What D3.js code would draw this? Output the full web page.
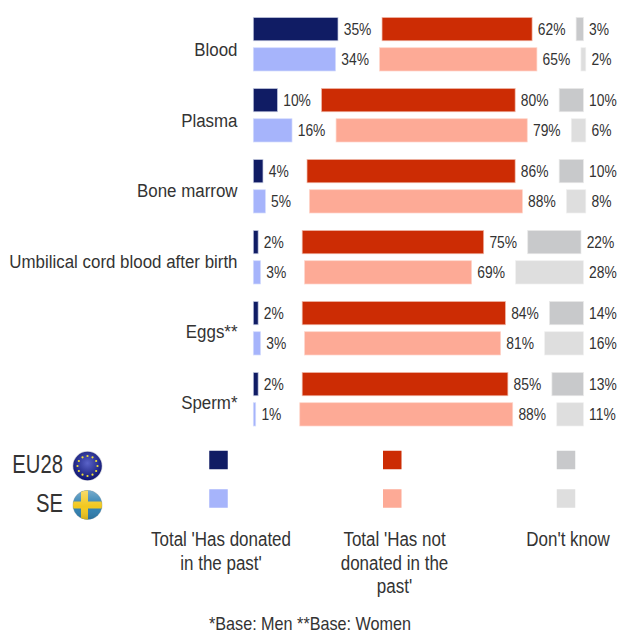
<!DOCTYPE html>
<html>
<head>
<meta charset="utf-8">
<script src="https://cdn.jsdelivr.net/npm/d3@7"></script>
<style>
html, body { margin: 0; padding: 0; background: #fff; }
svg { display: block; }
text { font-family: "Liberation Sans", Arial, sans-serif; fill: #333; }
</style>
</head>
<body>
<div id="chart"></div>
<script>
// values
var categories = ["Blood", "Plasma", "Bone marrow", "Umbilical cord blood after birth", "Eggs**", "Sperm*"];
var groups = ["EU28", "SE"];
var responses = ["Total 'Has donated in the past'", "Total 'Has not donated in the past'", "Don't know"];
var donatedEU = [35, 10, 4, 2, 2, 2];
var notDonatedEU = [62, 80, 86, 75, 84, 85];
var dontKnowEU = [3, 10, 10, 22, 14, 13];
var donatedSE = [34, 16, 5, 3, 3, 1];
var notDonatedSE = [65, 79, 88, 69, 81, 88];
var dontKnowSE = [2, 6, 8, 28, 16, 11];
var legendLines = [["Total 'Has donated", "in the past'"], ["Total 'Has not", "donated in the", "past'"], ["Don't know"]];
var footnote = "*Base: Men **Base: Women";

var colors = {
  EU28: ["#101c64", "#cc2c04", "#c8c9cb"],
  SE: ["#a6b4fb", "#fdaa96", "#dedede"]
};
var edges = {
  EU28: ["#c5cae0", "#f0b8a8", "#e8e8e8"],
  SE: ["#d5dcfd", "#fed5ca", "#efefef"]
};

var w = 620, h = 634;
var spacer = 18.2; // blank gap between the stacked segments, in % units

var svg = d3.select("#chart").append("svg").attr("width", w).attr("height", h);

// the source text is squeezed sideways, so every label goes through this
function label(parent, str, px, py, size, sx, anchor) {
  return parent.append("text")
    .attr("transform", "translate(" + px + "," + py + ") scale(" + sx + ",1)")
    .attr("text-anchor", anchor)
    .attr("font-size", size)
    .text(str);
}

var x = d3.scaleLinear().domain([0, 100]).range([253, 495]);
var y = d3.scaleBand().domain(categories).range([7.5, 433.5]);
var yInner = d3.scaleBand().domain(groups).range([10, 63.5]).paddingInner(0.23).paddingOuter(0);
var yLabel = d3.scalePoint().domain(categories).range([55.5, 408]);

var rows = [];
categories.forEach(function (c, i) {
  rows.push({ cat: c, group: "EU28", vals: [donatedEU[i], notDonatedEU[i], dontKnowEU[i]] });
  rows.push({ cat: c, group: "SE", vals: [donatedSE[i], notDonatedSE[i], dontKnowSE[i]] });
});

var row = svg.selectAll(".row").data(rows).enter().append("g")
  .attr("class", "row")
  .attr("transform", function (d) { return "translate(0," + (y(d.cat) + yInner(d.group)) + ")"; });

row.each(function (d) {
  var g = d3.select(this);
  var start = 0;
  d.vals.forEach(function (v, k) {
    var x0 = x(start), x1 = x(start + v);
    g.append("rect")
      .attr("x", x0 + 0.3).attr("y", 0)
      .attr("width", x1 - x0).attr("height", yInner.bandwidth())
      .attr("fill", colors[d.group][k])
      .attr("stroke", edges[d.group][k])
      .attr("stroke-width", 0.7);
    label(g, v + "%", x1 + 6, yInner.bandwidth() / 2 + 6, 16.5, 0.84, "start");
    start += v + spacer;
  });
});

// category labels
categories.forEach(function (c) {
  label(svg, c, 237.5, yLabel(c) + 0.5, 19, 0.89, "end");
});

// legend
var legendX = d3.scalePoint().domain(responses).range([218.5, 566]);
var legendY = d3.scalePoint().domain(groups).range([460, 498.5]);

groups.forEach(function (gr) {
  responses.forEach(function (r, k) {
    svg.append("rect")
      .attr("x", legendX(r) - 9.25).attr("y", legendY(gr) - 9.25)
      .attr("width", 18.5).attr("height", 18.5)
      .attr("fill", colors[gr][k]);
  });
  label(svg, gr, 63, legendY(gr) + 13.3, 25, 0.81, "end");
});

responses.forEach(function (r, k) {
  var cx = [221, 394.5, 568][k];
  legendLines[k].forEach(function (line, j) {
    label(svg, line, cx, 546 + j * 23.5, 19.5, 0.87, "middle");
  });
});

// kept just inside the bottom edge so the descenders are not clipped
label(svg, footnote, 310, 629.5, 18, 0.9, "middle");

// flags
var defs = svg.append("defs");
var eu = defs.append("radialGradient").attr("id", "euGrad").attr("cx", "50%").attr("cy", "40%").attr("r", "60%");
eu.append("stop").attr("offset", "0%").attr("stop-color", "#5a63c8");
eu.append("stop").attr("offset", "100%").attr("stop-color", "#0e1470");
var gloss = defs.append("linearGradient").attr("id", "gloss").attr("x1", 0).attr("y1", 0).attr("x2", 0).attr("y2", 1);
gloss.append("stop").attr("offset", "0%").attr("stop-color", "#fff").attr("stop-opacity", 0.35);
gloss.append("stop").attr("offset", "55%").attr("stop-color", "#fff").attr("stop-opacity", 0);
gloss.append("stop").attr("offset", "100%").attr("stop-color", "#000").attr("stop-opacity", 0.15);
defs.append("clipPath").attr("id", "seClip").append("circle").attr("r", 14.5);

var euFlag = svg.append("g").attr("transform", "translate(87.5,466)");
euFlag.append("circle").attr("r", 15).attr("fill", "#cfd0d8");
euFlag.append("circle").attr("r", 14.3).attr("fill", "url(#euGrad)");
d3.range(12).forEach(function (i) {
  var a = i / 12 * 2 * Math.PI;
  euFlag.append("circle")
    .attr("cx", 10 * Math.cos(a)).attr("cy", 10 * Math.sin(a))
    .attr("r", 1.1).attr("fill", "#f0e03a");
});

var seFlag = svg.append("g").attr("transform", "translate(87.5,505)");
seFlag.append("circle").attr("r", 15).attr("fill", "#d0d0d0");
var seInner = seFlag.append("g").attr("clip-path", "url(#seClip)");
seInner.append("rect").attr("x", -15).attr("y", -15).attr("width", 30).attr("height", 30).attr("fill", "#2f7fb0");
seInner.append("rect").attr("x", -15).attr("y", -3.5).attr("width", 30).attr("height", 7).attr("fill", "#f2c81e");
seInner.append("rect").attr("x", -6.5).attr("y", -15).attr("width", 7).attr("height", 30).attr("fill", "#f2c81e");
seInner.append("circle").attr("r", 14.5).attr("fill", "url(#gloss)");
</script>
</body>
</html>
